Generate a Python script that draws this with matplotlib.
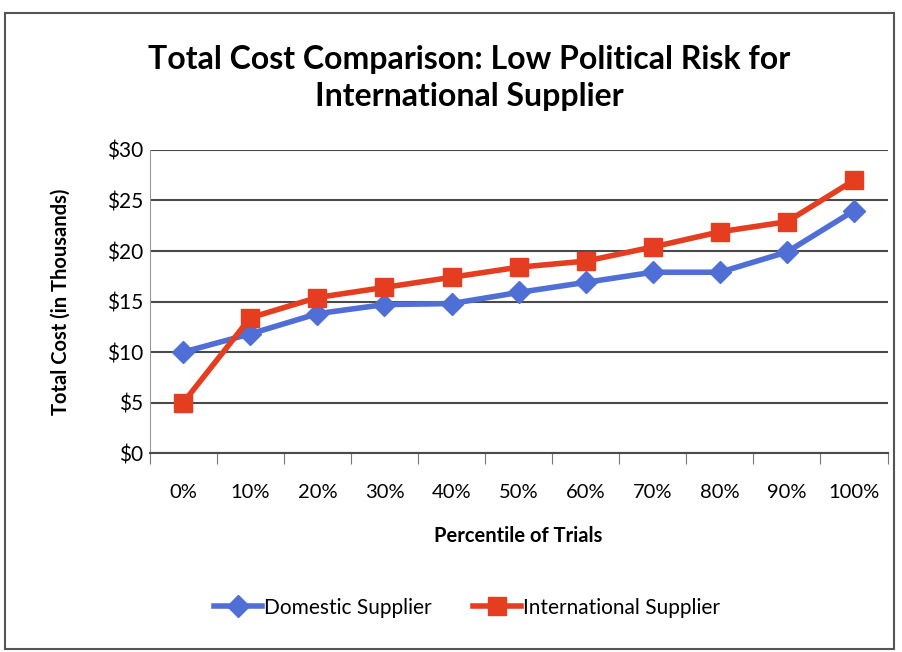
import matplotlib.pyplot as plt
import numpy as np
from matplotlib.patches import Rectangle

plt.rcParams['font.family'] = ['Lato', 'DejaVu Sans']

# percentile buckets and total cost (thousands of dollars)
percentiles = ['0%', '10%', '20%', '30%', '40%', '50%', '60%', '70%', '80%', '90%', '100%']
domestic = [10.0, 11.8, 13.8, 14.7, 14.8, 15.9, 16.9, 17.9, 17.9, 19.9, 24.0]
international = [5.0, 13.4, 15.4, 16.4, 17.4, 18.4, 19.0, 20.4, 21.9, 22.9, 27.0]
y_ticks = [0, 5, 10, 15, 20, 25, 30]

blue = '#4f6fd6'
red = '#e43d1f'

fig = plt.figure(figsize=(9.02, 6.52), dpi=100)
ax = fig.add_axes([0.166, 0.305, 0.818, 0.465])

x = np.arange(len(percentiles))
ax.plot(x, domestic, color=blue, lw=4, marker='D', ms=11,
        mfc=blue, mec=blue, label='Domestic Supplier', zorder=3)
ax.plot(x, international, color=red, lw=4, marker='s', ms=13,
        mfc=red, mec=red, label='International Supplier', zorder=4)

ax.set_xlim(-0.5, len(percentiles) - 0.5)
ax.set_ylim(0, 30)
ax.set_yticks(y_ticks)
ax.set_yticklabels(['$%d' % v for v in y_ticks], fontsize=15)
ax.yaxis.grid(True, color='#4a4a4a', lw=1.5)
ax.set_axisbelow(True)

# category labels in the middle, tick marks between categories
ax.set_xticks(np.arange(-0.5, len(percentiles), 1.0))
ax.set_xticklabels([])
ax.set_xticks(x, minor=True)
ax.set_xticklabels(percentiles, minor=True, fontsize=14.5)
ax.tick_params(axis='x', which='major', length=8, color='#777777')
ax.tick_params(axis='x', which='minor', length=0, pad=22)
ax.tick_params(axis='y', length=0, pad=5)

for side in ['top', 'right']:
    ax.spines[side].set_visible(False)
ax.spines['left'].set_color('#999999')
ax.spines['bottom'].set_color('#4a4a4a')
ax.spines['bottom'].set_linewidth(1.5)

ax.set_ylabel('Total Cost (in Thousands)', fontsize=14.5, fontweight='bold', labelpad=26)
ax.set_xlabel('Percentile of Trials', fontsize=14.5, fontweight='bold', labelpad=18)

fig.text(0.52, 0.88, 'Total Cost Comparison: Low Political Risk for\nInternational Supplier',
         ha='center', va='center', fontsize=23, fontweight='bold', linespacing=1.35)

ax.legend(loc='center', bbox_to_anchor=(0.43, -0.51), ncol=2, frameon=False,
          fontsize=15, handlelength=2.3, columnspacing=2.0, handletextpad=0.1)

# outer chart border
fig.patches.append(Rectangle((0.006, 0.005), 0.985, 0.975, transform=fig.transFigure,
                             fill=False, ec='#555555', lw=1.5))

fig.savefig('out.png', dpi=100)
